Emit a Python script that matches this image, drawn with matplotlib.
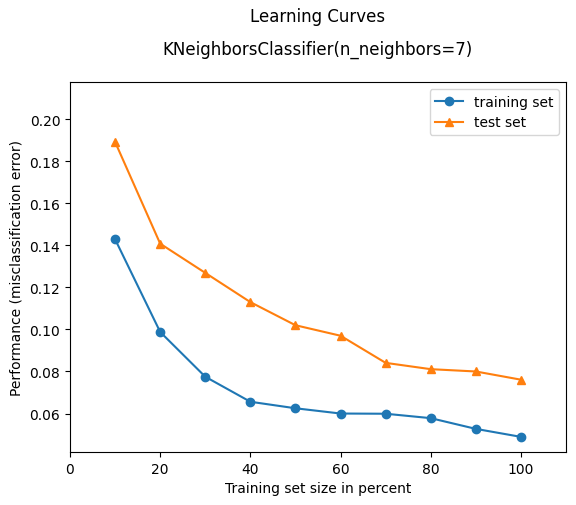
import matplotlib
matplotlib.use("Agg")
import matplotlib.pyplot as plt

sizes = [10, 20, 30, 40, 50, 60, 70, 80, 90, 100]
train_err = [0.1429, 0.0988, 0.0775, 0.0656, 0.0625, 0.0600, 0.0599, 0.0578, 0.0527, 0.0489]
test_err = [0.1892, 0.1408, 0.1269, 0.1130, 0.1020, 0.0970, 0.0841, 0.0811, 0.0800, 0.0761]

fig = plt.figure(figsize=(5.76, 5.06), dpi=100)
ax = fig.add_axes([70/576, 1-453/506, 496/576, 370/506])
ax.plot(sizes, train_err, marker='o', label='training set')
ax.plot(sizes, test_err, marker='^', label='test set')
ax.set_xlim(0, 110)
ax.set_ylim(0.0417, 0.2177)
ax.set_xlabel('Training set size in percent')
ax.set_ylabel('Performance (misclassification error)')
ax.set_title('KNeighborsClassifier(n_neighbors=7)', pad=20)
ax.legend(loc='upper right')
fig.text(318/576, 1-17/506, 'Learning Curves', ha='center', va='center', fontsize=12)
fig.savefig('out.png', dpi=100)
